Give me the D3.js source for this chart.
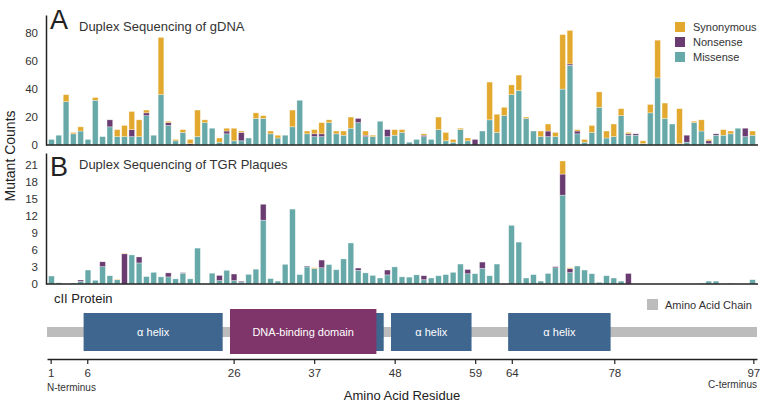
<!DOCTYPE html>
<html>
<head>
<meta charset="utf-8">
<script src="https://cdn.jsdelivr.net/npm/d3@7"></script>
<style>
  body { margin: 0; background: #fff; }
  svg { display: block; font-family: "Liberation Sans", Arial, sans-serif; }
</style>
</head>
<body>
<div id="chart"></div>
<script>
// residues 1..97
const residues = d3.range(1, 98);

// Panel A: duplex sequencing of gDNA
const gdnaMissense = [4,7,31,8,10,4,32,6,13,6, 6,6,6,21,7,36,14,3,9,0, 6,16,12,2,8,3,3,5,19,19,
  8,5,7,13,32,8,6,6,16,8, 7,12,16,6,6,17,6,7,9,2, 4,6,4,11,3,2,11,3,0,10,
  18,9,21,36,39,19,10,6,6,6, 40,57,8,2,9,27,5,6,21,7, 7,1,23,48,19,15,1,2,16,10,
  1,7,7,8,12,6,7];
const gdnaNonsense = [0,0,0,0,0,0,0,0,5,0, 0,5,0,2,0,0,2,0,0,1, 0,0,0,0,2,0,6,0,0,0,
  0,0,0,0,0,0,2,2,0,0, 0,0,3,1,0,0,5,0,0,0, 0,1,0,0,0,0,0,0,4,0,
  0,0,0,0,0,0,0,0,4,0, 0,1,2,0,0,0,0,0,0,1, 1,0,0,0,0,0,0,5,0,0,
  2,1,0,0,0,6,0];
const gdnaSynonymous = [0,0,5,1,3,0,2,0,0,5, 8,13,12,2,0,41,1,1,2,3, 19,2,0,3,2,9,1,0,4,2,
  2,2,0,12,0,2,3,8,2,2, 3,8,0,3,1,0,0,4,2,0, 0,1,0,9,6,2,1,2,0,0,
  27,13,6,7,11,1,0,4,5,3, 39,24,1,2,5,11,5,9,5,1, 0,2,6,27,11,0,25,0,1,8,
  1,0,4,2,0,0,3];

// Panel B: duplex sequencing of TGR plaques
const tgrMissense = [1.4,0.2,0,0.15,0.45,2.45,0.65,3.05,1.45,0.75, 0,5.1,3.7,1.3,2.05,1.25,1.25,0.9,1.9,0.9,
  6.3,0,1.9,0.6,2.4,0.6,0.35,1.7,2.6,11.2, 0.95,0.5,3.45,13.15,1.65,3.0,2.7,2.85,3.4,2.5,
  4.4,7.2,2.4,1.95,1.5,1.05,1.6,3.0,1.25,1.2, 1.6,0.75,1.05,1.45,1.65,2.05,3.5,1.8,1.8,2.75,
  1.45,3.5,0,10.3,7.35,1.05,1.65,0.5,1.85,2.85, 15.6,2.0,3.15,2.45,1.8,0.3,1.45,1.05,0.5,0,
  0,0,0,0,0,0,0,0,0,0.1, 0.5,0.5,0,0.1,0,0,0.75];
const tgrNonsense = [0,0,0,0,0.25,0,0,0.85,0,0, 5.3,0,1.05,0,0,0,0.7,0,0.1,0,
  0,0,0,0.9,0,1.15,0.15,0,0,2.8, 0,0,0,0,0,0.15,0,1.35,0,0,
  0,0,0.4,0,0,0,0.85,0,0,0, 0,0.7,0,0,0,0,0,0.75,0,1.1,
  0,0,0,0,0,0,0,0,0,0.2, 3.7,0.7,0,0,0,0,0,0,0,1.85,
  0,0,0,0,0,0,0,0,0,0, 0,0,0,0,0,0,0];
const tgrSynonymous = [0,0,0,0,0,0,0,0,0,0.1, 0.1,0,0,0,0,0,0,0,0,0,
  0,0,0,0,0,0,0,0,0,0, 0,0,0,0,0,0,0.15,0,0,0,
  0,0,0,0,0,0,0,0,0,0, 0,0,0,0,0,0,0,0,0,0,
  0,0,0,0,0,0,0,0,0,0, 2.3,0.15,0,0,0,0,0,0,0,0,
  0,0,0,0,0,0,0,0,0,0, 0,0,0,0,0,0,0];

const gdnaTicks = [0, 20, 40, 60, 80];
const tgrTicks = [0, 3, 6, 9, 12, 15, 18, 21];
const residueTicks = [1, 6, 26, 37, 48, 59, 64, 78, 97];

// protein domains (residue start, end)
const helices = [[6, 24], [27, 46], [48, 58], [64, 77]];
const dnaBinding = [[26, 45]];

const keys = ["missense", "nonsense", "synonymous"];
const legendLabels = ["Synonymous", "Nonsense", "Missense"];
const color = d3.scaleOrdinal()
  .domain(keys)
  .range(["#67a9a9", "#6a3b70", "#e3a92e"]);

const W = 762, H = 404;
const svg = d3.select("#chart").append("svg")
  .attr("width", W).attr("height", H);

const x = d3.scaleBand().domain(residues).range([47, 757]).padding(0.22);
const xr = d3.scaleLinear().domain([0.5, 97.5]).range([47, 757]);

function drawPanel(m, n, s, yDomain, yRange, ticks, letter, letterY, title) {
  const rows = residues.map((r, i) => ({ r: r, missense: m[i], nonsense: n[i], synonymous: s[i] }));
  const series = d3.stack().keys(keys)(rows);
  const y = d3.scaleLinear().domain(yDomain).range(yRange);
  const g = svg.append("g");

  g.selectAll("g.layer")
    .data(series)
    .enter()
    .append("g")
      .attr("class", "layer")
      .attr("fill", d => color(d.key))
    .selectAll("rect")
    .data(d => d)
    .enter()
    .append("rect")
      .attr("x", d => x(d.data.r))
      .attr("width", x.bandwidth())
      .attr("y", d => y(d[1]))
      .attr("height", d => Math.max(0, y(d[0]) - y(d[1])))
      .attr("stroke", "rgba(255,255,255,0.55)")
      .attr("stroke-width", 0.6);

  // y axis, no tick marks
  const ax = g.append("g")
    .attr("transform", "translate(46,0)")
    .call(d3.axisLeft(y).tickValues(ticks).tickSize(0).tickSizeOuter(0).tickPadding(8));
  ax.select(".domain").attr("stroke", "#222").attr("stroke-width", 1.5);
  ax.selectAll("text").attr("font-size", 11.5).attr("fill", "#333").attr("font-family", "Liberation Sans, Arial, sans-serif");

  // baseline
  g.append("line")
    .attr("x1", 46).attr("x2", 758)
    .attr("y1", y(0)).attr("y2", y(0))
    .attr("stroke", "#222").attr("stroke-width", 1.5);

  g.append("text")
    .attr("x", 50).attr("y", letterY)
    .attr("font-size", 27).attr("fill", "#222")
    .text(letter);
  g.append("text")
    .attr("x", 79).attr("y", yRange[1] + 16)
    .attr("font-size", 13).attr("fill", "#333")
    .text(title);
}

drawPanel(gdnaMissense, gdnaNonsense, gdnaSynonymous, [0, 93], [145, 15], gdnaTicks,
  "A", 29, "Duplex Sequencing of gDNA");
drawPanel(tgrMissense, tgrNonsense, tgrSynonymous, [0, 23], [284, 153], tgrTicks,
  "B", 176, "Duplex Sequencing of TGR Plaques");

// y label
svg.append("text")
  .attr("transform", "translate(15,156) rotate(-90)")
  .attr("text-anchor", "middle")
  .attr("font-size", 14).attr("fill", "#222")
  .text("Mutant Counts");

// legend
const legend = svg.append("g").attr("transform", "translate(675,22)");
legend.selectAll("g")
  .data(["synonymous", "nonsense", "missense"])
  .enter()
  .append("g")
    .attr("transform", (d, i) => "translate(0," + i * 15 + ")")
    .each(function(d, i) {
      d3.select(this).append("rect")
        .attr("width", 10).attr("height", 10)
        .attr("fill", color(d));
      d3.select(this).append("text")
        .attr("x", 18).attr("y", 9)
        .attr("font-size", 11).attr("fill", "#333")
        .text(legendLabels[i]);
    });

// protein panel
svg.append("text")
  .attr("x", 54).attr("y", 303)
  .attr("font-size", 13).attr("fill", "#222")
  .text("cII Protein");

svg.append("rect")
  .attr("x", xr(0.5)).attr("width", xr(97.5) - xr(0.5))
  .attr("y", 327).attr("height", 10)
  .attr("fill", "#bcbcbc");

svg.selectAll("rect.helix")
  .data(helices)
  .enter()
  .append("rect")
    .attr("class", "helix")
    .attr("x", d => xr(d[0] - 0.5))
    .attr("width", d => xr(d[1] + 0.5) - xr(d[0] - 0.5))
    .attr("y", 313).attr("height", 38)
    .attr("fill", "#3f668f");

svg.selectAll("rect.dna")
  .data(dnaBinding)
  .enter()
  .append("rect")
    .attr("class", "dna")
    .attr("x", d => xr(d[0] - 0.5))
    .attr("width", d => xr(d[1] + 0.5) - xr(d[0] - 0.5))
    .attr("y", 309).attr("height", 45)
    .attr("fill", "#80356a");

svg.selectAll("text.helixLabel")
  .data(helices.filter((d, i) => i !== 1))
  .enter()
  .append("text")
    .attr("class", "helixLabel")
    .attr("x", d => (xr(d[0] - 0.5) + xr(d[1] + 0.5)) / 2)
    .attr("y", 336)
    .attr("text-anchor", "middle")
    .attr("font-size", 11).attr("fill", "#fff")
    .text("α helix");

svg.selectAll("text.dnaLabel")
  .data(dnaBinding)
  .enter()
  .append("text")
    .attr("x", d => (xr(d[0] - 0.5) + xr(d[1] + 0.5)) / 2)
    .attr("y", 336)
    .attr("text-anchor", "middle")
    .attr("font-size", 11).attr("fill", "#fff")
    .text("DNA-binding domain");

// amino acid chain legend
svg.append("rect")
  .attr("x", 647).attr("y", 299).attr("width", 11).attr("height", 11)
  .attr("fill", "#bcbcbc");
svg.append("text")
  .attr("x", 665).attr("y", 308.5)
  .attr("font-size", 11).attr("fill", "#333")
  .text("Amino Acid Chain");

// residue axis
const bx = svg.append("g")
  .attr("transform", "translate(0,359)")
  .call(d3.axisBottom(xr).tickValues(residueTicks).tickSize(5).tickSizeOuter(0).tickPadding(5));
bx.select(".domain").attr("stroke", "#222").attr("stroke-width", 1.5);
bx.selectAll(".tick line").attr("stroke", "#222").attr("stroke-width", 1.2);
bx.selectAll("text").attr("font-size", 11.5).attr("fill", "#333").attr("font-family", "Liberation Sans, Arial, sans-serif");

svg.append("text")
  .attr("x", 47).attr("y", 391)
  .attr("font-size", 10).attr("fill", "#333")
  .text("N-terminus");
svg.append("text")
  .attr("x", 757).attr("y", 388)
  .attr("text-anchor", "end")
  .attr("font-size", 10).attr("fill", "#333")
  .text("C-terminus");
svg.append("text")
  .attr("x", 402).attr("y", 400)
  .attr("text-anchor", "middle")
  .attr("font-size", 13).attr("fill", "#222")
  .text("Amino Acid Residue");
</script>
</body>
</html>
